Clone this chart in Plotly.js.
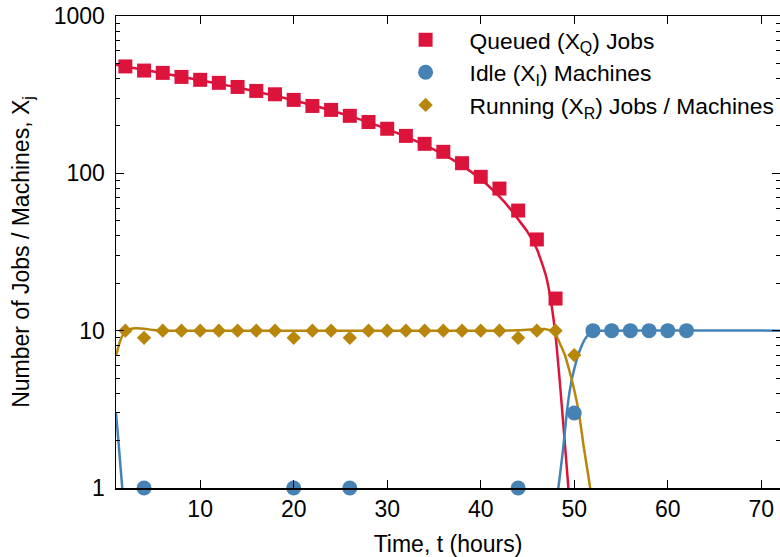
<!DOCTYPE html>
<html>
<head>
<meta charset="utf-8">
<script src="https://cdn.plot.ly/plotly-3.0.1.min.js"></script>
<style>html,body{margin:0;padding:0;background:#fff;}#chart{width:780px;height:557px;}</style>
</head>
<body>
<div id="chart"></div>
<script>
// Measured points
var tQueued = [2,4,6,8,10,12,14,16,18,20,22,24,26,28,30,32,34,36,38,40,42,44,46,48];
var queued = [478,450,435,410,393,376,354,334,318,293,268,253,232,212,192,173,154,137,116,95,80,58,38,16];

var tIdle = [4,20,26,44,50,52,54,56,58,60,62];
var idle = [1,1,1,1,3,10,10,10,10,10,10];

var tRunning = [2,4,6,8,10,12,14,16,18,20,22,24,26,28,30,32,34,36,38,40,42,44,46,48,50];
var running = [10,9,10,10,10,10,10,10,10,9,10,10,9,10,10,10,10,10,10,10,10,9,10,10,7];

// Model curves
var tQueuedFit = [1,2,4,6,8,10,12,14,16,18,20,22,24,26,28,30,32,34,36,38,40,42,43,44,45,46,47,47.5,48,48.5,49,49.4,49.8];
var queuedFit = [490,478,455,433,411,391,371,351,331,311,291,271,251,231,211,191,171,151,132,112,92,71,61,51,42.5,33,22,15.5,9.3,4.4,1.9,0.95,0.4];

var tIdleFit = [1,1.3,1.67,1.9,null,48.0,48.3,48.8,49.2,49.5,49.9,50.6,51.3,52,53,72];
var idleFit = [3,1.85,1,0.75,null,0.7,1,1.75,3,4.1,5.4,7.5,9.1,9.9,10,10];

var tRunningFit = [1,1.5,2,3,4,5,6,10,20,30,40,44,46,46.8,47.5,48,48.5,49,49.5,50,50.5,51,51.5,51.7,52.1];
var runningFit = [6.9,8.8,9.9,10.35,10.3,10.1,10,10,10,10,10,10.05,10.2,10.25,10.0,9.5,8.2,7.0,5.5,4.2,3.0,1.85,1.2,1.0,0.65];

var xTicks = [10,20,30,40,50,60,70];
var yTicks = [1,10,100,1000];
var yTickText = ['1','10','100','1000'];
var yMinor = [2,3,4,5,6,7,8,9,20,30,40,50,60,70,80,90,200,300,400,500,600,700,800,900];

var RED = '#DC143C', BLUE = '#4682B4', GOLD = '#B8860B';

var traces = [
  {x: tQueuedFit, y: queuedFit, mode: 'lines', line: {color: RED, width: 2.5, shape: 'spline', smoothing: 0.6}, showlegend: false, hoverinfo: 'skip', legendgroup: 'q'},
  {x: tIdleFit, y: idleFit, mode: 'lines', line: {color: BLUE, width: 2.5, shape: 'spline', smoothing: 0.6}, connectgaps: false, showlegend: false, hoverinfo: 'skip', legendgroup: 'i'},
  {x: tRunningFit, y: runningFit, mode: 'lines', line: {color: GOLD, width: 2.5, shape: 'spline', smoothing: 0.6}, showlegend: false, hoverinfo: 'skip', legendgroup: 'r'},
  {x: tQueued, y: queued, mode: 'markers', name: 'Queued (X<sub>Q</sub>) Jobs', marker: {symbol: 'square', size: 14, color: RED}, cliponaxis: false, legendgroup: 'q'},
  {x: tIdle, y: idle, mode: 'markers', name: 'Idle (X<sub>I</sub>) Machines', marker: {symbol: 'circle', size: 15, color: BLUE}, cliponaxis: false, legendgroup: 'i'},
  {x: tRunning, y: running, mode: 'markers', name: 'Running (X<sub>R</sub>) Jobs / Machines', marker: {symbol: 'diamond', size: 11, color: GOLD}, cliponaxis: false, legendgroup: 'r'}
];

var FONT = 'Liberation Sans, Arial, sans-serif';
var FS = 23;

var layout = {
  width: 780, height: 557,
  margin: {l: 116, r: 0, t: 16, b: 69, autoexpand: false},
  paper_bgcolor: '#fff', plot_bgcolor: '#fff',
  font: {family: FONT, size: FS, color: '#000'},
  showlegend: true,
  legend: {x: 0.40, y: 0.995, xanchor: 'left', yanchor: 'top', bgcolor: 'rgba(0,0,0,0)', font: {family: FONT, size: 22.8},
           itemwidth: 78, traceorder: 'grouped', tracegroupgap: 0},
  xaxis: {
    range: [1, 72], showgrid: false, zeroline: false,
    tickmode: 'array', tickvals: xTicks, ticks: 'inside', ticklen: 8, tickwidth: 1, tickcolor: '#000',
    showline: true, linecolor: '#000', linewidth: 1.5, mirror: 'ticks',
    tickfont: {family: FONT, size: FS},
    title: {text: 'Time, t (hours)', font: {family: FONT, size: FS}, standoff: 15}
  },
  yaxis: {
    type: 'log', range: [0, 3], showgrid: false, zeroline: false,
    tickmode: 'array', tickvals: yTicks, ticktext: yTickText, ticks: 'inside', ticklen: 8, tickwidth: 1, tickcolor: '#000',
    minor: {tickmode: 'array', tickvals: yMinor, ticks: 'inside', ticklen: 4, tickwidth: 1, tickcolor: '#000', showgrid: false},
    showline: true, linecolor: '#000', linewidth: 1.5, mirror: 'ticks',
    ticklabelstandoff: 5,
    tickfont: {family: FONT, size: FS},
    title: {text: 'Number of Jobs / Machines, X<sub>j</sub>', font: {family: FONT, size: FS}, standoff: 17}
  }
};

Plotly.newPlot('chart', traces, layout, {displayModeBar: false, staticPlot: true});
</script>
</body>
</html>
